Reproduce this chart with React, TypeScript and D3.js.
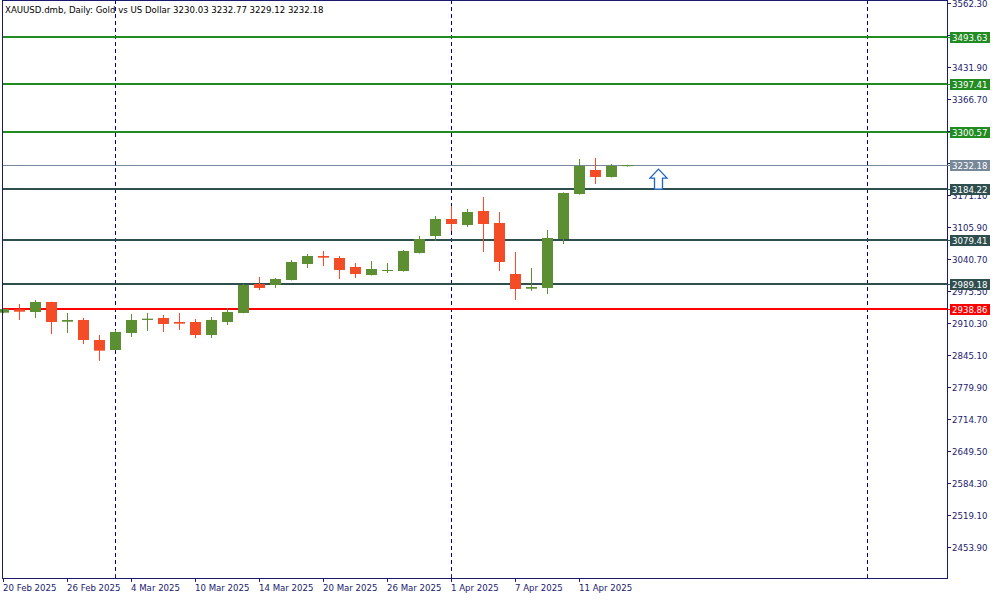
import React from "react";
import * as d3 from "d3";

const title = "XAUUSD.dmb, Daily:  Gold vs US Dollar  3230.03 3232.77 3229.12 3232.18";

const dates = [
  "20 Feb 2025", "21 Feb 2025", "24 Feb 2025", "25 Feb 2025", "26 Feb 2025", "27 Feb 2025", "28 Feb 2025",
  "3 Mar 2025", "4 Mar 2025", "5 Mar 2025", "6 Mar 2025", "7 Mar 2025", "10 Mar 2025", "11 Mar 2025",
  "12 Mar 2025", "13 Mar 2025", "14 Mar 2025", "17 Mar 2025", "18 Mar 2025", "19 Mar 2025", "20 Mar 2025",
  "21 Mar 2025", "24 Mar 2025", "25 Mar 2025", "26 Mar 2025", "27 Mar 2025", "28 Mar 2025", "31 Mar 2025",
  "1 Apr 2025", "2 Apr 2025", "3 Apr 2025", "4 Apr 2025", "7 Apr 2025", "8 Apr 2025", "9 Apr 2025",
  "10 Apr 2025", "11 Apr 2025", "14 Apr 2025", "15 Apr 2025", "16 Apr 2025",
];

const opens = [
  2931.2, 2938.1, 2932.6, 2953.0, 2912.8, 2916.3, 2875.5, 2855.1, 2889.8, 2916.3,
  2920.4, 2912.2, 2912.2, 2885.7, 2912.2, 2930.6, 2989.7, 2987.7, 2997.9, 3030.5,
  3046.8, 3042.8, 3024.4, 3008.1, 3016.2, 3016.2, 3053.0, 3087.6, 3122.3, 3110.1,
  3138.6, 3114.2, 3010.1, 2980.1, 2981.6, 3081.5, 3173.3, 3222.3, 3208.0, 3230.03,
];
const highs = [
  2939.5, 2948.9, 2957.1, 2953.5, 2930.6, 2920.4, 2885.7, 2895.9, 2928.5, 2930.6,
  2926.5, 2930.6, 2918.3, 2922.4, 2940.8, 2989.7, 3004.0, 3002.0, 3038.7, 3050.9,
  3057.0, 3046.8, 3032.6, 3036.6, 3032.6, 3059.1, 3087.6, 3128.4, 3148.8, 3142.7,
  3167.2, 3136.6, 3055.0, 3022.4, 3099.9, 3176.5, 3244.7, 3246.7, 3234.5, 3232.77,
];
const lows = [
  2930.0, 2916.3, 2920.4, 2887.7, 2889.8, 2867.3, 2832.7, 2854.0, 2881.6, 2893.9,
  2891.8, 2895.9, 2879.6, 2879.6, 2906.1, 2930.0, 2977.5, 2981.6, 2997.0, 3022.4,
  3026.4, 2999.9, 3002.0, 3007.0, 3012.2, 3015.0, 3052.0, 3077.4, 3097.8, 3106.0,
  3055.0, 3016.2, 2957.1, 2975.5, 2969.3, 3071.3, 3172.0, 3193.7, 3207.0, 3229.12,
];
const closes = [
  2938.7, 2933.2, 2953.0, 2912.2, 2916.3, 2875.5, 2853.7, 2891.8, 2916.3, 2919.0,
  2908.1, 2908.8, 2885.7, 2916.3, 2932.6, 2987.7, 2981.6, 2999.9, 3034.6, 3046.8,
  3043.4, 3018.3, 3010.1, 3020.3, 3018.3, 3057.0, 3081.5, 3122.3, 3112.1, 3136.6,
  3112.1, 3034.6, 2979.5, 2983.6, 3083.6, 3175.4, 3230.4, 3208.0, 3230.4, 3232.18,
];

const yTicks = [
  3562.3, 3497.1, 3431.9, 3366.7, 3301.5, 3236.3, 3171.1, 3105.9, 3040.7, 2975.5,
  2910.3, 2845.1, 2779.9, 2714.7, 2649.5, 2584.3, 2519.1, 2453.9,
];
const dateTickBars = [0, 4, 8, 12, 16, 20, 24, 28, 32, 36];
const separatorBars = [7, 28, 54];

const levelPrices = [3493.63, 3397.41, 3300.57, 3232.18, 3184.22, 3079.41, 2989.18, 2938.86];
const levelKinds = ["green", "green", "green", "price", "dark", "dark", "dark", "red"];

const arrowBar = [41];
const arrowPrice = [3224];

const colors: Record<string, string> = {
  green: "#228B22",
  price: "#778899",
  dark: "#2F4F4F",
  red: "#FF0000",
};

const UP = "#5B8F31";
const DOWN = "#F44C27";
const AXIS = "#1A1A6E";
const FONT = "DejaVu Sans, Verdana, sans-serif";
const FS = 8.6;

export default function App() {
  const W = 1000, H = 600;
  const left = 2, right = 947, top = 0, bottom = 578;
  const x = d3.scaleLinear().domain([0, 1]).range([left + 0.5, left + 16.5]);
  const y = d3.scaleLinear().domain([2390, 3569.0]).range([bottom, top]);
  const bw = 11;

  const candles = opens.map((o, i) => ({ o, h: highs[i], l: lows[i], c: closes[i], i }));

  return (
    <svg width={W} height={H} style={{ position: "absolute", left: 0, top: 0, background: "#fff" }}
      fontFamily={FONT}>
      <rect x={0} y={0} width={W} height={H} fill="#fff" />
      {separatorBars.map((b) => (
        <line key={"s" + b} x1={Math.round(x(b)) + 0.5} x2={Math.round(x(b)) + 0.5} y1={top} y2={bottom}
          stroke="#00008B" strokeWidth={1} strokeDasharray="4,3" />
      ))}
      {levelPrices.map((p, i) => {
        const yy = Math.round(y(p));
        const w = levelKinds[i] === "price" ? 1 : 2;
        return (
          <line key={"l" + i} x1={left} x2={right} y1={yy + (w === 1 ? 0.5 : 0)} y2={yy + (w === 1 ? 0.5 : 0)}
            stroke={colors[levelKinds[i]]} strokeWidth={w} />
        );
      })}
      {candles.map((d) => {
        const cx = Math.round(x(d.i)) + 0.5;
        const up = d.c >= d.o;
        const col = up ? UP : DOWN;
        const yt = y(Math.max(d.o, d.c));
        const yb = y(Math.min(d.o, d.c));
        const bh = Math.max(1, yb - yt);
        return (
          <g key={"c" + d.i}>
            <line x1={cx} x2={cx} y1={y(d.h)} y2={y(d.l)} stroke={col} strokeWidth={1} />
            <rect x={cx - bw / 2} y={yt} width={bw} height={bh} fill={col} />
          </g>
        );
      })}
      {arrowBar.map((b, i) => {
        const ax = x(b);
        const ay = y(arrowPrice[i]);
        const path = `M0,0 L8.5,9 L4,9 L4,20 L-4,20 L-4,9 L-8.5,9 Z`;
        return (
          <path key={"a" + i} d={path} transform={`translate(${ax},${ay})`} fill="#fff"
            stroke="#1E64C8" strokeWidth={1.3} />
        );
      })}
      <line x1={left + 0.5} x2={left + 0.5} y1={top} y2={bottom} stroke={AXIS} />
      <line x1={left} x2={right} y1={top + 0.5} y2={top + 0.5} stroke={AXIS} />
      <line x1={right + 0.5} x2={right + 0.5} y1={top} y2={bottom + 0.5} stroke={AXIS} />
      <line x1={left} x2={right + 1} y1={bottom + 0.5} y2={bottom + 0.5} stroke={AXIS} />
      {yTicks.map((t) => {
        const yy = Math.round(y(t)) + 0.5;
        return (
          <g key={"yt" + t}>
            <line x1={right} x2={right + 4} y1={yy} y2={yy} stroke={AXIS} />
            <text x={right + 5} y={yy} dy="0.35em" fontSize={FS} fill={AXIS}>{t.toFixed(2)}</text>
          </g>
        );
      })}
      {levelPrices.map((p, i) => {
        const yy = Math.round(y(p));
        const col = colors[levelKinds[i]];
        return (
          <g key={"ll" + i}>
            <line x1={right} x2={right + 4} y1={yy + 0.5} y2={yy + 0.5} stroke={col} />
            <rect x={right + 3} y={yy - 5} width={40} height={11} fill={col} />
            <text x={right + 5} y={yy + 0.5} dy="0.35em" fontSize={FS} fill="#fff">{p.toFixed(2)}</text>
          </g>
        );
      })}
      {dateTickBars.map((b) => {
        const xx = Math.round(x(b)) + 0.5;
        return (
          <g key={"xt" + b}>
            <line x1={xx} x2={xx} y1={bottom} y2={bottom + 4} stroke={AXIS} />
            <text x={xx - 0.5} y={591} fontSize={FS} fill={AXIS}>{dates[b]}</text>
          </g>
        );
      })}
      {separatorBars.map((b) => (
        <line key={"sx" + b} x1={Math.round(x(b)) + 0.5} x2={Math.round(x(b)) + 0.5} y1={bottom - 4} y2={bottom}
          stroke={AXIS} />
      ))}
      <text x={5} y={13} fontSize={FS} fill="#000">{title}</text>
    </svg>
  );
}
